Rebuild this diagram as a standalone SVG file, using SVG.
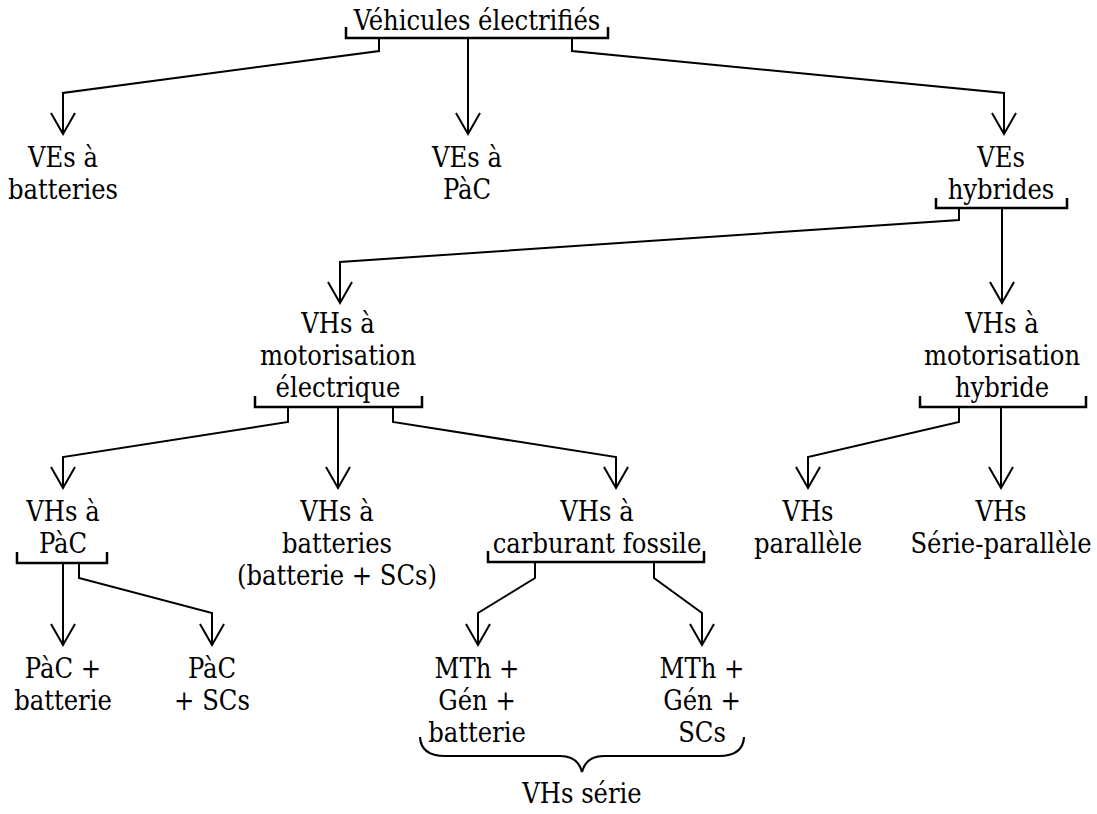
<svg xmlns="http://www.w3.org/2000/svg" width="1097" height="814" viewBox="0 0 1097 814">
  <style>
    text { font-family: "DejaVu Serif", "Liberation Serif", serif; font-stretch: condensed; font-size: 27px; fill: #000; text-anchor: middle; }
    .bracket { fill: none; stroke: #000; stroke-width: 2.5; }
    .link { fill: none; stroke: #000; stroke-width: 2; marker-end: url(#vee); }
    .brace { fill: none; stroke: #000; stroke-width: 2.2; }
  </style>
  <defs>
    <!-- open V arrowhead -->
    <marker id="vee" viewBox="-24 -15 28 30" refX="0" refY="0" markerWidth="28" markerHeight="30" markerUnits="userSpaceOnUse" orient="auto" overflow="visible">
      <path d="M-21,-12 L0,0 L-21,12" fill="none" stroke="#000" stroke-width="2"/>
    </marker>
  </defs>

  <rect width="1097" height="814" fill="#fff"/>

  <!-- connectors -->
  <g id="connectors">
    <polyline class="link" points="379,38 379,51 63,93 63,134"/>
    <polyline class="link" points="468,38 468,134"/>
    <polyline class="link" points="572,38 572,51 1004,93 1004,134"/>

    <polyline class="link" points="959,208 959,220 340,262 340,303"/>
    <polyline class="link" points="1002,208 1002,303"/>

    <polyline class="link" points="288,407 288,422 63,457 63,488"/>
    <polyline class="link" points="338,407 338,488"/>
    <polyline class="link" points="393,407 393,422 616,457 616,488"/>

    <polyline class="link" points="959,407 959,422 808,457 808,488"/>
    <polyline class="link" points="1001,407 1001,488"/>

    <polyline class="link" points="63,563 63,645"/>
    <polyline class="link" points="79,563 79,578 212,613 212,645"/>

    <polyline class="link" points="535,562 535,578 478,613 478,645"/>
    <polyline class="link" points="654,562 654,578 702,613 702,645"/>
  </g>

  <!-- root -->
  <g id="n-root">
    <text x="477" y="30">Véhicules électrifiés</text>
    <polyline class="bracket" points="346,27 346,38 608,38 608,27"/>
  </g>

  <!-- first level -->
  <g id="n-ve-batt">
    <text x="63" y="167">VEs à</text>
    <text x="63" y="199">batteries</text>
  </g>
  <g id="n-ve-pac">
    <text x="467" y="167">VEs à</text>
    <text x="467" y="199">PàC</text>
  </g>
  <g id="n-ve-hyb">
    <text x="1001" y="167">VEs</text>
    <text x="1001" y="199">hybrides</text>
    <polyline class="bracket" points="936,198 936,208 1067,208 1067,198"/>
  </g>

  <!-- second level -->
  <g id="n-vh-elec">
    <text x="338" y="333">VHs à</text>
    <text x="338" y="365">motorisation</text>
    <text x="338" y="397">électrique</text>
    <polyline class="bracket" points="255,396 255,407 422,407 422,396"/>
  </g>
  <g id="n-vh-hyb">
    <text x="1002" y="333">VHs à</text>
    <text x="1002" y="365">motorisation</text>
    <text x="1002" y="397">hybride</text>
    <polyline class="bracket" points="920,396 920,407 1086,407 1086,396"/>
  </g>

  <!-- third level -->
  <g id="n-vh-pac">
    <text x="63" y="521">VHs à</text>
    <text x="63" y="553">PàC</text>
    <polyline class="bracket" points="17,552 17,563 107,563 107,552"/>
  </g>
  <g id="n-vh-batt">
    <text x="337" y="521">VHs à</text>
    <text x="337" y="553">batteries</text>
    <text x="337" y="585">(batterie + SCs)</text>
  </g>
  <g id="n-vh-fossile">
    <text x="597" y="521">VHs à</text>
    <text x="597" y="553">carburant fossile</text>
    <polyline class="bracket" points="488,551 488,562 704,562 704,551"/>
  </g>
  <g id="n-vh-par">
    <text x="808" y="521">VHs</text>
    <text x="808" y="553">parallèle</text>
  </g>
  <g id="n-vh-serpar">
    <text x="1001" y="521">VHs</text>
    <text x="1001" y="553">Série-parallèle</text>
  </g>

  <!-- fourth level -->
  <g id="n-pac-batt">
    <text x="63" y="678">PàC +</text>
    <text x="63" y="710">batterie</text>
  </g>
  <g id="n-pac-sc">
    <text x="212" y="678">PàC</text>
    <text x="212" y="710">+ SCs</text>
  </g>
  <g id="n-mth-batt">
    <text x="477" y="678">MTh +</text>
    <text x="477" y="710">Gén +</text>
    <text x="477" y="742">batterie</text>
  </g>
  <g id="n-mth-sc">
    <text x="702" y="678">MTh +</text>
    <text x="702" y="710">Gén +</text>
    <text x="702" y="742">SCs</text>
  </g>

  <!-- series group -->
  <g id="n-vh-serie">
    <path class="brace" d="M420,737 Q421,756 445,756 L560,756 Q578,756 582,772 Q586,756 604,756 L719,756 Q743,756 744,737"/>
    <text x="582" y="803">VHs série</text>
  </g>
</svg>
